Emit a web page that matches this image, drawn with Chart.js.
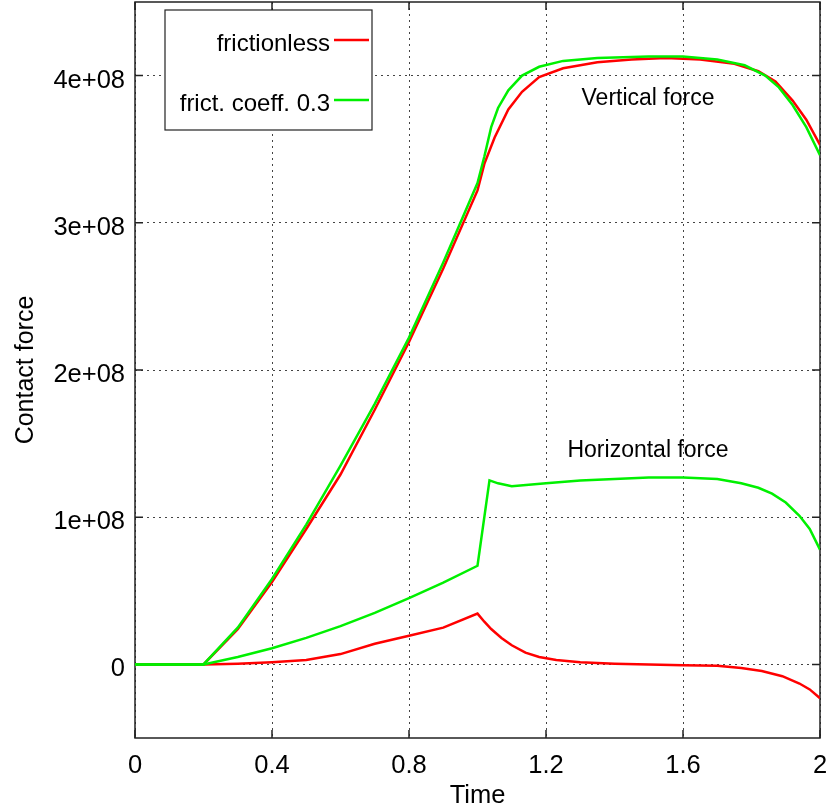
<!DOCTYPE html>
<html>
<head>
<meta charset="utf-8">
<script src="https://cdn.jsdelivr.net/npm/chart.js@4"></script>
<style>
  body { margin: 0; background: #fff; }
  #wrap { width: 828px; height: 812px; }
</style>
</head>
<body>
<div id="wrap"><canvas id="chart" width="828" height="812"></canvas></div>
<script>
// vertical force, frictionless
const vertTimeA = [0, 0.2, 0.3, 0.4, 0.5, 0.6, 0.7, 0.8, 0.9, 1.0, 1.02, 1.05, 1.09, 1.13, 1.18, 1.25, 1.35, 1.45, 1.55, 1.65, 1.75, 1.82, 1.87, 1.92, 1.96, 2.0];
const vertFrictionless = [0, 0, 0.24e8, 0.56e8, 0.92e8, 1.29e8, 1.73e8, 2.19e8, 2.69e8, 3.22e8, 3.40e8, 3.58e8, 3.77e8, 3.89e8, 3.99e8, 4.05e8, 4.09e8, 4.11e8, 4.12e8, 4.11e8, 4.08e8, 4.03e8, 3.96e8, 3.83e8, 3.70e8, 3.53e8];

// vertical force, friction 0.3
const vertTimeB = [0, 0.2, 0.3, 0.4, 0.5, 0.6, 0.7, 0.8, 0.9, 1.0, 1.02, 1.04, 1.06, 1.09, 1.13, 1.18, 1.25, 1.35, 1.5, 1.6, 1.7, 1.78, 1.84, 1.88, 1.92, 1.96, 2.0];
const vertFriction = [0, 0, 0.25e8, 0.58e8, 0.95e8, 1.35e8, 1.77e8, 2.22e8, 2.73e8, 3.27e8, 3.45e8, 3.65e8, 3.78e8, 3.90e8, 4.00e8, 4.06e8, 4.10e8, 4.12e8, 4.13e8, 4.13e8, 4.11e8, 4.07e8, 4.00e8, 3.92e8, 3.80e8, 3.65e8, 3.46e8];

// horizontal force, frictionless
const horTimeA = [0, 0.2, 0.3, 0.4, 0.5, 0.6, 0.7, 0.8, 0.9, 1.0, 1.02, 1.04, 1.07, 1.1, 1.14, 1.18, 1.23, 1.3, 1.4, 1.5, 1.6, 1.7, 1.77, 1.83, 1.89, 1.94, 1.97, 2.0];
const horFrictionless = [0, 0, 0.005e8, 0.015e8, 0.03e8, 0.07e8, 0.14e8, 0.195e8, 0.25e8, 0.345e8, 0.29e8, 0.24e8, 0.18e8, 0.13e8, 0.08e8, 0.05e8, 0.03e8, 0.015e8, 0.005e8, 0, -0.005e8, -0.01e8, -0.025e8, -0.045e8, -0.08e8, -0.13e8, -0.17e8, -0.23e8];

// horizontal force, friction 0.3
const horTimeB = [0, 0.2, 0.3, 0.4, 0.5, 0.6, 0.7, 0.8, 0.9, 1.0, 1.035, 1.06, 1.1, 1.15, 1.2, 1.3, 1.4, 1.5, 1.6, 1.7, 1.77, 1.82, 1.86, 1.9, 1.94, 1.97, 2.0];
const horFriction = [0, 0, 0.05e8, 0.11e8, 0.18e8, 0.26e8, 0.35e8, 0.45e8, 0.555e8, 0.67e8, 1.25e8, 1.23e8, 1.21e8, 1.22e8, 1.23e8, 1.25e8, 1.26e8, 1.27e8, 1.27e8, 1.26e8, 1.23e8, 1.20e8, 1.16e8, 1.10e8, 1.01e8, 0.92e8, 0.78e8];

const xTicks = [0, 0.4, 0.8, 1.2, 1.6, 2];
const yTicks = [0, 1e8, 2e8, 3e8, 4e8];
const seriesNames = ['frictionless', 'frict. coeff. 0.3'];

const RED = '#ff0000';
const GREEN = '#00f000';
const sans = '"Liberation Sans", Arial, sans-serif';

function pts(ts, vs) {
  return ts.map((t, i) => ({ x: t, y: vs[i] }));
}

function yLabel(v) {
  if (v === 0) return '0';
  return Math.round(v / 1e8) + 'e+08';
}

// frame and inward ticks under the lines, legend box and notes on top
const decorations = {
  id: 'decorations',
  beforeDatasetsDraw(chart) {
    const ctx = chart.ctx;
    const a = chart.chartArea;
    const xs = chart.scales.x, ys = chart.scales.y;
    ctx.save();
    ctx.strokeStyle = '#222';
    ctx.lineWidth = 1.5;
    ctx.strokeRect(a.left, a.top, a.right - a.left, a.bottom - a.top);
    ctx.beginPath();
    xTicks.forEach(t => {
      const px = xs.getPixelForValue(t);
      ctx.moveTo(px, a.bottom); ctx.lineTo(px, a.bottom - 8);
      ctx.moveTo(px, a.top); ctx.lineTo(px, a.top + 8);
    });
    yTicks.forEach(v => {
      const py = ys.getPixelForValue(v);
      ctx.moveTo(a.left, py); ctx.lineTo(a.left + 8, py);
      ctx.moveTo(a.right, py); ctx.lineTo(a.right - 8, py);
    });
    ctx.stroke();
    ctx.restore();
  },
  afterDraw(chart) {
    const ctx = chart.ctx;
    ctx.save();
    ctx.fillStyle = '#fff';
    ctx.fillRect(165, 10, 207, 120);
    ctx.strokeStyle = '#222';
    ctx.lineWidth = 1.2;
    ctx.strokeRect(165, 10, 207, 120);
    ctx.font = '24px ' + sans;
    ctx.fillStyle = '#000';
    ctx.textAlign = 'right';
    ctx.textBaseline = 'alphabetic';
    [[seriesNames[0], RED, 40], [seriesNames[1], GREEN, 100]].forEach(([txt, col, y]) => {
      ctx.fillText(txt, 330, y + 11);
      ctx.strokeStyle = col;
      ctx.lineWidth = 2.5;
      ctx.beginPath();
      ctx.moveTo(334, y); ctx.lineTo(369, y);
      ctx.stroke();
    });

    ctx.font = '23px ' + sans;
    ctx.textAlign = 'center';
    ctx.fillText('Vertical force', 648, 105);
    ctx.fillText('Horizontal force', 648, 457);
    ctx.restore();
  }
};

new Chart(document.getElementById('chart'), {
  type: 'line',
  data: {
    datasets: [
      { label: seriesNames[1], data: pts(vertTimeB, vertFriction), borderColor: GREEN },
      { label: seriesNames[1], data: pts(horTimeB, horFriction), borderColor: GREEN },
      { label: seriesNames[0], data: pts(vertTimeA, vertFrictionless), borderColor: RED },
      { label: seriesNames[0], data: pts(horTimeA, horFrictionless), borderColor: RED }
    ]
  },
  options: {
    responsive: false,
    animation: false,
    datasets: { line: { borderWidth: 2.5, pointRadius: 0, tension: 0, fill: false } },
    layout: { padding: { left: 0, right: 8, top: 2, bottom: 0 } },
    plugins: { legend: { display: false }, tooltip: { enabled: false } },
    scales: {
      x: {
        type: 'linear',
        min: 0,
        max: 2,
        afterBuildTicks: s => { s.ticks = xTicks.map(v => ({ value: v })); },
        afterFit: s => { s.height = 74; s.paddingLeft = 0; s.paddingRight = 0; },
        grid: { color: '#444', lineWidth: 1, drawTicks: false },
        border: { display: false, dash: [2, 4] },
        ticks: {
          padding: 13,
          color: '#000',
          maxRotation: 0,
          font: { family: sans, size: 25.5 },
          callback: v => String(v)
        },
        title: { display: true, text: 'Time', color: '#000', font: { family: sans, size: 25.5 }, padding: { top: 0, bottom: 1 } }
      },
      y: {
        type: 'linear',
        min: -0.5e8,
        max: 4.5e8,
        afterBuildTicks: s => { s.ticks = yTicks.map(v => ({ value: v })); },
        afterFit: s => { s.width = 135; s.paddingTop = 0; s.paddingBottom = 0; },
        grid: { color: '#444', lineWidth: 1, drawTicks: false },
        border: { display: false, dash: [2, 4] },
        ticks: {
          padding: 10,
          labelOffset: 5,
          color: '#000',
          font: { family: sans, size: 25.5 },
          callback: v => yLabel(v)
        },
        title: { display: true, text: 'Contact force', color: '#000', font: { family: sans, size: 25 }, padding: { top: 11, bottom: 0 } }
      }
    }
  },
  plugins: [decorations]
});
</script>
</body>
</html>
